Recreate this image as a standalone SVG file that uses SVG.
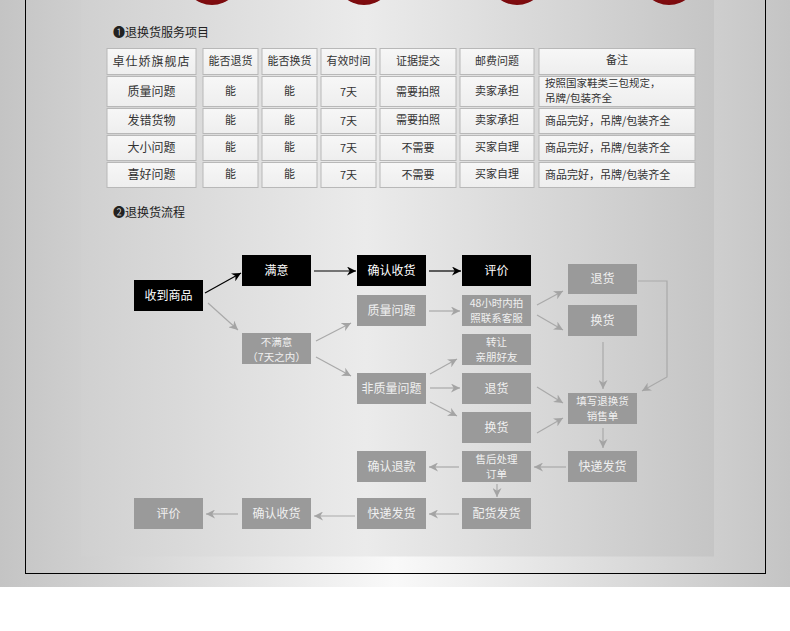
<svg xmlns="http://www.w3.org/2000/svg" width="790" height="631" viewBox="0 0 790 631">
<defs>
<linearGradient id="bgG" x1="0" y1="0" x2="1" y2="0">
<stop offset="0" stop-color="#c4c4c4"/><stop offset="0.5" stop-color="#f9f9f9"/><stop offset="1" stop-color="#c4c4c4"/>
</linearGradient>
<linearGradient id="panelG" x1="0" y1="0" x2="1" y2="0">
<stop offset="0" stop-color="#d0d0d0"/><stop offset="0.45" stop-color="#ebebeb"/><stop offset="1" stop-color="#c5c5c5"/>
</linearGradient>
<radialGradient id="redG" cx="0.5" cy="0.4" r="0.6">
<stop offset="0" stop-color="#b01a1e"/><stop offset="1" stop-color="#7a0a0d"/>
</radialGradient>
<linearGradient id="cellG" x1="0" y1="0" x2="0" y2="1">
<stop offset="0" stop-color="#f7f7f7"/><stop offset="1" stop-color="#eeeeee"/>
</linearGradient>
<marker id="ab" viewBox="0 0 10 10" refX="10" refY="5" markerWidth="9" markerHeight="9" markerUnits="userSpaceOnUse" orient="auto">
<path d="M0,0 L10,5 L0,10 L3,5 Z" fill="#000"/>
</marker>
<marker id="ag" viewBox="0 0 10 10" refX="10" refY="5" markerWidth="9" markerHeight="9" markerUnits="userSpaceOnUse" orient="auto">
<path d="M0,0 L10,5 L0,10 L3,5 Z" fill="#a4a4a4"/>
</marker>
</defs>
<style>
text{font-family:"Noto Sans CJK SC","Noto Sans",sans-serif;}
.cell{fill:url(#cellG);stroke:#b8b8b8;stroke-width:1;}
.ct{font-size:11px;fill:#333;text-anchor:middle;}
.ctl{font-size:11px;fill:#333;}
.ctl2{font-size:10.5px;fill:#333;}
.rh{font-size:12px;fill:#333;text-anchor:middle;}
.hd{font-size:12px;fill:#222;}
.nb{fill:#000;}
.ng{fill:#9a9a9a;}
.tb{font-size:12px;fill:#fff;text-anchor:middle;}
.tg{font-size:12px;fill:#f0f0f0;text-anchor:middle;}
.t2{font-size:10.5px;fill:#f0f0f0;text-anchor:middle;}
.lb{stroke:#000;stroke-width:1.2;fill:none;marker-end:url(#ab);}
.lg{stroke:#a9a9a9;stroke-width:1.2;fill:none;marker-end:url(#ag);}
</style>
<rect x="0" y="0" width="790" height="631" fill="#fff"/>
<rect x="0" y="0" width="790" height="587" fill="url(#bgG)"/>
<rect x="81" y="0" width="633" height="556.5" fill="url(#panelG)"/>
<rect x="25.5" y="-5" width="740" height="578.5" fill="none" stroke="#000" stroke-width="1"/>
<g id="circles" fill="url(#redG)">
<circle cx="212" cy="-24" r="29"/><circle cx="364" cy="-24" r="29"/><circle cx="517" cy="-24" r="29"/><circle cx="669" cy="-24" r="29"/>
</g>
<text class="hd" x="113" y="37">❶退换货服务项目</text>
<g id="table">
<rect class="cell" x="107" y="48.5" width="89" height="26"/>
<rect class="cell" x="203" y="48.5" width="55" height="26"/>
<rect class="cell" x="262" y="48.5" width="55" height="26"/>
<rect class="cell" x="321" y="48.5" width="55" height="26"/>
<rect class="cell" x="380" y="48.5" width="76" height="26"/>
<rect class="cell" x="460" y="48.5" width="74" height="26"/>
<rect class="cell" x="539" y="48.5" width="156" height="26"/>
<rect class="cell" x="107" y="76.5" width="89" height="30"/>
<rect class="cell" x="203" y="76.5" width="55" height="30"/>
<rect class="cell" x="262" y="76.5" width="55" height="30"/>
<rect class="cell" x="321" y="76.5" width="55" height="30"/>
<rect class="cell" x="380" y="76.5" width="76" height="30"/>
<rect class="cell" x="460" y="76.5" width="74" height="30"/>
<rect class="cell" x="539" y="76.5" width="156" height="30"/>
<rect class="cell" x="107" y="108.5" width="89" height="25"/>
<rect class="cell" x="203" y="108.5" width="55" height="25"/>
<rect class="cell" x="262" y="108.5" width="55" height="25"/>
<rect class="cell" x="321" y="108.5" width="55" height="25"/>
<rect class="cell" x="380" y="108.5" width="76" height="25"/>
<rect class="cell" x="460" y="108.5" width="74" height="25"/>
<rect class="cell" x="539" y="108.5" width="156" height="25"/>
<rect class="cell" x="107" y="135.5" width="89" height="25"/>
<rect class="cell" x="203" y="135.5" width="55" height="25"/>
<rect class="cell" x="262" y="135.5" width="55" height="25"/>
<rect class="cell" x="321" y="135.5" width="55" height="25"/>
<rect class="cell" x="380" y="135.5" width="76" height="25"/>
<rect class="cell" x="460" y="135.5" width="74" height="25"/>
<rect class="cell" x="539" y="135.5" width="156" height="25"/>
<rect class="cell" x="107" y="162.5" width="89" height="25"/>
<rect class="cell" x="203" y="162.5" width="55" height="25"/>
<rect class="cell" x="262" y="162.5" width="55" height="25"/>
<rect class="cell" x="321" y="162.5" width="55" height="25"/>
<rect class="cell" x="380" y="162.5" width="76" height="25"/>
<rect class="cell" x="460" y="162.5" width="74" height="25"/>
<rect class="cell" x="539" y="162.5" width="156" height="25"/>
<text class="rh" x="151.5" y="66" style="letter-spacing:1px">卓仕娇旗舰店</text>
<text class="ct" x="230.5" y="65">能否退货</text>
<text class="ct" x="289.5" y="65">能否换货</text>
<text class="ct" x="348.5" y="65">有效时间</text>
<text class="ct" x="418" y="65">证据提交</text>
<text class="ct" x="497" y="65">邮费问题</text>
<text class="ct" x="617" y="64">备注</text>
<text class="rh" x="151.5" y="96">质量问题</text>
<text class="rh" x="151.5" y="125">发错货物</text>
<text class="rh" x="151.5" y="152">大小问题</text>
<text class="rh" x="151.5" y="179">喜好问题</text>
<text class="ct" x="230.5" y="95">能</text><text class="ct" x="289.5" y="95">能</text><text class="ct" x="348.5" y="96">7天</text><text class="ct" x="418" y="96">需要拍照</text><text class="ct" x="497" y="95">卖家承担</text>
<text class="ctl2" x="545" y="87">按照国家鞋类三包规定，</text>
<text class="ctl2" x="545" y="102">吊牌/包装齐全</text>
<text class="ct" x="230.5" y="124">能</text><text class="ct" x="289.5" y="124">能</text><text class="ct" x="348.5" y="125">7天</text><text class="ct" x="418" y="124">需要拍照</text><text class="ct" x="497" y="124">卖家承担</text><text class="ctl" x="545" y="125">商品完好，吊牌/包装齐全</text>
<text class="ct" x="230.5" y="151">能</text><text class="ct" x="289.5" y="151">能</text><text class="ct" x="348.5" y="152">7天</text><text class="ct" x="418" y="152">不需要</text><text class="ct" x="497" y="151">买家自理</text><text class="ctl" x="545" y="152">商品完好，吊牌/包装齐全</text>
<text class="ct" x="230.5" y="178">能</text><text class="ct" x="289.5" y="178">能</text><text class="ct" x="348.5" y="179">7天</text><text class="ct" x="418" y="179">不需要</text><text class="ct" x="497" y="178">买家自理</text><text class="ctl" x="545" y="179">商品完好，吊牌/包装齐全</text>
</g>
<text class="hd" x="113" y="217">❷退换货流程</text>
<g id="connectors">
<line class="lb" x1="205" y1="293" x2="241" y2="273"/>
<line class="lb" x1="314" y1="271" x2="356" y2="271"/>
<line class="lb" x1="429" y1="271" x2="461" y2="271"/>
<line class="lg" x1="208" y1="303" x2="238" y2="330"/>
<line class="lg" x1="316" y1="341" x2="351" y2="323"/>
<line class="lg" x1="316" y1="357" x2="351" y2="376"/>
<line class="lg" x1="429" y1="311" x2="460" y2="311"/>
<line class="lg" x1="537" y1="305" x2="563" y2="291"/>
<line class="lg" x1="537" y1="315" x2="563" y2="330"/>
<line class="lg" x1="430" y1="374" x2="457" y2="359"/>
<line class="lg" x1="430" y1="388" x2="460" y2="388"/>
<line class="lg" x1="430" y1="402" x2="457" y2="416"/>
<line class="lg" x1="537" y1="387" x2="563" y2="403"/>
<line class="lg" x1="537" y1="433" x2="563" y2="418"/>
<line class="lg" x1="603" y1="342" x2="603" y2="389"/>
<polyline class="lg" points="638,281 667,281 667,377 642,391"/>
<line class="lg" x1="603" y1="428" x2="603" y2="448"/>
<line class="lg" x1="566" y1="467" x2="534" y2="467"/>
<line class="lg" x1="459" y1="467" x2="429" y2="467"/>
<line class="lg" x1="497" y1="484" x2="497" y2="497"/>
<line class="lg" x1="459" y1="514" x2="429" y2="514"/>
<line class="lg" x1="355" y1="516" x2="314" y2="516"/>
<line class="lg" x1="238" y1="514" x2="206" y2="514"/>
</g>
<g id="n-shoudao"><rect class="nb" x="134" y="280" width="69" height="31"/><text class="tb" x="168.5" y="300">收到商品</text></g>
<g id="n-manyi"><rect class="nb" x="242" y="255" width="69" height="31"/><text class="tb" x="276.5" y="275">满意</text></g>
<g id="n-queren1"><rect class="nb" x="357" y="255" width="69" height="31"/><text class="tb" x="391.5" y="275">确认收货</text></g>
<g id="n-pingjia1"><rect class="nb" x="462" y="255" width="69" height="31"/><text class="tb" x="496.5" y="275">评价</text></g>
<g id="n-bumanyi"><rect class="ng" x="242" y="333" width="69" height="31"/><text class="t2" x="276.5" y="346">不满意</text><text class="t2" x="276.5" y="361">（7天之内）</text></g>
<g id="n-zhiliang"><rect class="ng" x="357" y="295" width="69" height="31"/><text class="tg" x="391.5" y="315">质量问题</text></g>
<g id="n-48"><rect class="ng" x="462" y="295" width="69" height="31"/><text class="t2" x="496.5" y="307">48小时内拍</text><text class="t2" x="496.5" y="322">照联系客服</text></g>
<g id="n-tuihuo1"><rect class="ng" x="568" y="264" width="69" height="30"/><text class="tg" x="602.5" y="283">退货</text></g>
<g id="n-huanhuo1"><rect class="ng" x="568" y="305" width="69" height="31"/><text class="tg" x="602.5" y="325">换货</text></g>
<g id="n-zhuanrang"><rect class="ng" x="462" y="334" width="69" height="31"/><text class="t2" x="496.5" y="346">转让</text><text class="t2" x="496.5" y="361">亲朋好友</text></g>
<g id="n-feizhiliang"><rect class="ng" x="357" y="373" width="69" height="31"/><text class="tg" x="391.5" y="393">非质量问题</text></g>
<g id="n-tuihuo2"><rect class="ng" x="462" y="373" width="69" height="31"/><text class="tg" x="496.5" y="393">退货</text></g>
<g id="n-huanhuo2"><rect class="ng" x="462" y="412" width="69" height="31"/><text class="tg" x="496.5" y="432">换货</text></g>
<g id="n-tianxie"><rect class="ng" x="568" y="393" width="69" height="31"/><text class="t2" x="602.5" y="405">填写退换货</text><text class="t2" x="602.5" y="420">销售单</text></g>
<g id="n-kuaidi1"><rect class="ng" x="568" y="451" width="69" height="31"/><text class="tg" x="602.5" y="471">快递发货</text></g>
<g id="n-shouhou"><rect class="ng" x="462" y="451" width="69" height="31"/><text class="t2" x="496.5" y="463">售后处理</text><text class="t2" x="496.5" y="478">订单</text></g>
<g id="n-tuikuan"><rect class="ng" x="357" y="451" width="69" height="31"/><text class="tg" x="391.5" y="471">确认退款</text></g>
<g id="n-peihuo"><rect class="ng" x="462" y="498" width="69" height="31"/><text class="tg" x="496.5" y="518">配货发货</text></g>
<g id="n-kuaidi2"><rect class="ng" x="357" y="498" width="69" height="31"/><text class="tg" x="391.5" y="518">快递发货</text></g>
<g id="n-queren2"><rect class="ng" x="242" y="498" width="69" height="31"/><text class="tg" x="276.5" y="518">确认收货</text></g>
<g id="n-pingjia2"><rect class="ng" x="134" y="498" width="69" height="31"/><text class="tg" x="168.5" y="518">评价</text></g>
</svg>
